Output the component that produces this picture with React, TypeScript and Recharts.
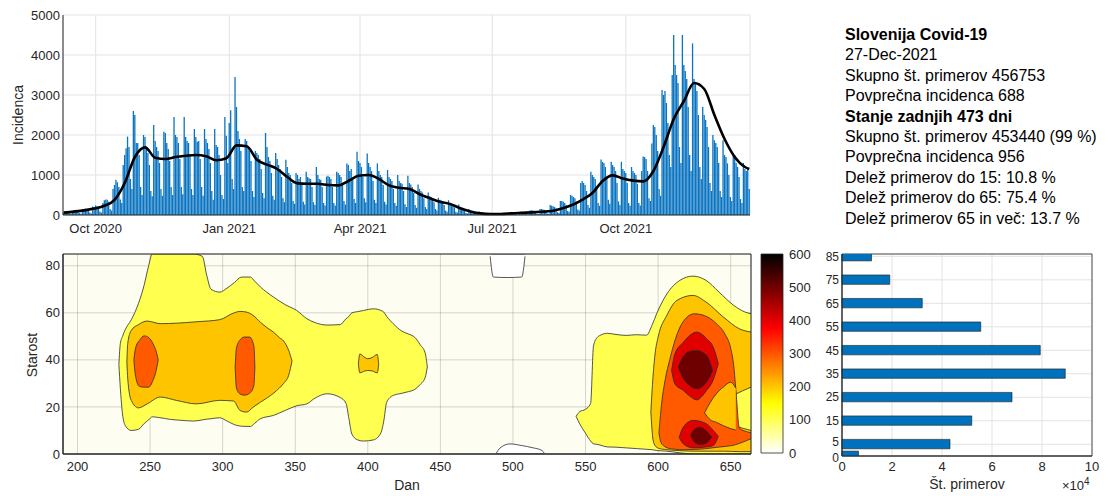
import React from 'react';
import { ComposedChart, BarChart, Bar, Line, Area, XAxis, YAxis, CartesianGrid, ReferenceArea } from 'recharts';

const FONT = '"Liberation Sans", Arial, Helvetica, sans-serif';
const INK = '#262626';
const GRID = '#e3e3e3';

// ---------- top panel: daily cases ----------
const dateTicks = [22, 114, 204, 295, 387];
const dateLabels = ['Oct 2020', 'Jan 2021', 'Apr 2021', 'Jul 2021', 'Oct 2021'];
const casesTicks = [0, 1000, 2000, 3000, 4000, 5000];

// one row per week, Wed..Tue
const dailyCases = [
  60, 90, 85, 70, 40, 25, 100,
  110, 120, 100, 80, 45, 30, 150,
  140, 160, 150, 120, 60, 40, 210,
  200, 240, 220, 180, 90, 60, 300,
  370, 390, 380, 330, 150, 110, 650,
  750, 880, 820, 700, 390, 300, 1250,
  1500, 1670, 1960, 1700, 900, 650, 2600,
  2500, 1800, 1800, 1500, 700, 500, 2000,
  1950, 1700, 1550, 1250, 600, 470, 2250,
  1850, 1700, 1600, 1300, 650, 480, 2080,
  2050, 1800, 1650, 1350, 700, 500, 2450,
  2000, 1950, 1800, 1400, 700, 520, 2450,
  1950, 1850, 1800, 1500, 650, 500, 2150,
  1950, 1830, 1850, 1400, 700, 480, 2150,
  1900, 1800, 1650, 1300, 600, 380, 2150,
  1750, 1700, 1500, 1000, 500, 400, 2450,
  1980, 1300, 2300, 2620, 900, 650, 3450,
  2700, 2100, 1900, 1600, 700, 600, 1900,
  1850, 1700, 1600, 1350, 600, 450, 1600,
  1550, 1500, 1400, 1150, 550, 420, 2050,
  1700, 1450, 1350, 1050, 480, 380, 1550,
  1400, 1250, 1150, 950, 420, 320, 1380,
  1200, 1050, 1000, 800, 350, 280, 1050,
  1000, 900, 950, 750, 330, 260, 1080,
  950, 920, 900, 700, 320, 250, 1200,
  1000, 900, 880, 700, 300, 240, 960,
  980, 950, 900, 700, 300, 240, 1080,
  1050, 1000, 950, 800, 350, 260, 1290,
  1250, 1100, 1150, 900, 400, 300, 1580,
  1350, 1300, 1200, 950, 420, 320, 1540,
  1300, 1200, 1100, 850, 380, 300, 1290,
  1100, 1000, 950, 750, 330, 260, 1125,
  950, 900, 850, 650, 300, 230, 1000,
  850, 800, 780, 600, 270, 200, 980,
  800, 760, 700, 550, 250, 180, 760,
  650, 600, 560, 420, 200, 150, 560,
  470, 450, 420, 320, 150, 110, 430,
  380, 360, 330, 250, 110, 80, 370,
  300, 280, 250, 190, 80, 60, 260,
  200, 180, 160, 120, 50, 40, 150,
  110, 100, 90, 70, 30, 20, 90,
  60, 55, 50, 40, 15, 10, 50,
  45, 40, 35, 30, 10, 8, 45,
  40, 38, 35, 25, 10, 8, 50,
  60, 55, 50, 40, 15, 10, 70,
  80, 75, 70, 55, 20, 15, 110,
  120, 110, 100, 80, 30, 25, 150,
  150, 140, 130, 100, 40, 30, 250,
  230, 220, 200, 170, 70, 50, 350,
  350, 330, 300, 250, 100, 80, 500,
  480, 450, 420, 340, 140, 110, 800,
  850, 800, 750, 600, 250, 180, 1080,
  1000, 950, 900, 700, 300, 230, 1390,
  1330, 1300, 1200, 900, 380, 280, 1330,
  1250, 1200, 1100, 800, 340, 250, 1330,
  1150, 1100, 1050, 800, 300, 230, 1200,
  1100, 1050, 1000, 780, 300, 240, 1100,
  1460, 1450, 1400, 1100, 420, 350, 1790,
  2250, 2200, 2000, 1600, 650, 480, 3125,
  3000, 3100, 2800, 2300, 1500, 1200, 3500,
  4500, 3750, 3500, 3300, 1700, 1300, 4500,
  3750, 3600, 3400, 2700, 1500, 1100, 4290,
  3400, 3330, 3100, 2500, 1200, 900, 2700,
  2500, 2375, 2200, 1700, 800, 600, 2000,
  1870, 1800, 1700, 1300, 600, 450, 1870,
  1500, 1450, 1290, 1000, 450, 350, 1540,
  1500, 1300, 1200, 950, 400, 300, 1300,
  1150, 1100, 1150, 650,
];

// moving average, read weekly
const avgPoints: [number, number][] = [
  [0, 60], [7, 85], [14, 115], [21, 160], [28, 230], [35, 380], [42, 800], [49, 1450],
  [56, 1690], [63, 1430], [70, 1400], [77, 1450], [84, 1480], [91, 1500], [98, 1470],
  [105, 1370], [112, 1420], [119, 1740], [126, 1720], [133, 1380], [140, 1260], [147, 1150],
  [154, 950], [161, 790], [168, 780], [175, 780], [182, 750], [189, 740], [196, 850],
  [203, 980], [210, 1000], [217, 900], [224, 740], [231, 680], [238, 650], [245, 520],
  [252, 420], [259, 330], [266, 275], [273, 170], [280, 90], [287, 40], [294, 25],
  [301, 25], [308, 40], [315, 55], [322, 65], [329, 80], [336, 100], [343, 160],
  [350, 250], [357, 380], [364, 550], [371, 850], [378, 990], [385, 910], [392, 860],
  [399, 840], [406, 1100], [413, 1700], [420, 2400], [427, 2850], [434, 3300], [441, 3150],
  [448, 2500], [455, 1900], [462, 1450], [469, 1200], [472, 1150],
];

const dailyData = dailyCases.map((v, i) => ({ i, cases: v, avg: null as number | null }));
avgPoints.forEach(([i, v]) => { dailyData[i].avg = v; });

// ---------- contour panel: age x day ----------
const dayTicks = [200, 250, 300, 350, 400, 450, 500, 550, 600, 650];
const ageTicks = [0, 20, 40, 60, 80];
const levelColors = ['#fdfdf2', '#ffff50', '#ffc400', '#ff5a00', '#e00000', '#6e0000'];

// contour regions as [day, ageLow, ageHigh]
const c100a = [
  [228.5, 38, 38], [229.5, 28, 47], [231, 17, 50], [233, 12, 53], [237, 10, 57], [242, 10.5, 64],
  [246, 13, 72], [249, 14.5, 80], [251.5, 15.8, 85], [256, 15.5, 85], [264, 14.7, 85], [272, 14.3, 85],
  [280, 14, 85], [286, 14.5, 84], [289, 14.8, 76], [292, 15, 70], [298, 15.4, 68.8], [303, 14, 70.5],
  [308, 12.5, 72.8], [313, 11.8, 75.2], [319, 11.7, 75.2], [322, 13, 73.5], [326, 15, 71], [335, 16.4, 66.7],
  [343, 18.5, 63.5], [351, 20.5, 61], [358, 21.3, 57.5], [363, 23.5, 56], [372, 25.6, 54.8], [381, 24, 55],
  [385, 21.5, 57.5], [387, 15, 58.5], [389, 8.5, 60], [393, 6, 60.5], [397, 5.5, 61], [404, 6, 61.7],
  [409, 9, 61], [411, 14, 60.3], [413, 22, 58.5], [417.5, 24.9, 55.4], [423.5, 25.8, 52.2], [428, 26.5, 51],
  [432.5, 27.5, 49.5], [436, 29.5, 46.5], [439.5, 32.5, 43], [441, 37, 37],
];
const c100b = [
  [543.5, 16, 16], [546, 12.8, 18], [550, 8.8, 19], [553.5, 5.5, 21.5], [555.5, 4.3, 46], [558, 4.1, 49.5],
  [560, 3.8, 50.4], [565, 3, 51.3], [571, 2.9, 50.8], [578, 2.6, 50.4], [585, 2.3, 50.7], [592, 2, 50.5],
  [596, 1.8, 55], [599, 1.5, 59.6], [606, 1.2, 68], [615, 0.5, 73.8], [624, 0, 75.6], [633, 0, 73.8],
  [642, 0, 68.8], [652, 0, 63.2], [660, 0, 60.3], [664, 0, 59.6],
];
const c200a = [
  [234, 39, 39], [234.6, 32, 47], [237, 22.8, 52.5], [242, 19.6, 55], [248, 21.3, 56.5], [257, 24.2, 55.4],
  [268, 22.8, 55.6], [282, 21.3, 56.2], [298, 22.8, 57.1], [307.5, 22.5, 59.9], [312, 18.5, 60.6],
  [316.5, 17.8, 60.3], [321, 19.9, 58.9], [326, 22, 56], [331, 24, 53.5], [335, 25.8, 51.8], [339, 28, 49.5],
  [342, 30, 48], [345.5, 33.5, 44], [347.8, 39.5, 39.5],
];
const c200b = [
  [393.5, 38.3, 38.3], [394.5, 34.5, 42.5], [398, 35.3, 41], [400, 35.5, 40.5], [403, 35.3, 41],
  [406.5, 34.5, 42.3], [407.5, 38, 38],
];
const c200c = [
  [595, 18, 18], [596.5, 6, 33], [598, 3.5, 43], [600, 2.5, 49.7], [606, 1.8, 58.9], [613, 1.5, 65.3],
  [624, 1.2, 67.4], [633, 1.2, 64.6], [645, 1.2, 58.2], [656, 1, 53.2], [664, 1, 51.8],
];
const gap100 = [
  [640, 19.8, 19.8], [643, 15.5, 22.5], [648, 13.5, 24], [652, 12.3, 25], [658, 11, 26.8], [664, 10, 28.4],
];
const c300a = [
  [238.8, 40, 40], [240, 33, 45], [242.7, 28.7, 48.3], [246, 28.4, 50.2], [249, 28.4, 49.5], [252, 31.3, 46.9],
  [254, 35, 44], [255.6, 40, 40],
];
const c300b = [
  [308.6, 37, 37], [309.5, 28, 45], [312, 25.5, 48.5], [315, 25, 49.7], [318.5, 25.8, 49.7], [321.5, 29, 46],
  [322.2, 37, 37],
];
const c300c = [
  [600.6, 9, 9], [602, 4.8, 19], [605, 3, 32], [608, 2.3, 40], [612, 2, 49], [617, 1.8, 56], [625, 1.9, 59.6],
  [632, 2.2, 58.8], [640, 2.8, 55.5], [646, 3.2, 51], [650, 3.5, 45], [652, 3.7, 38], [653.5, 4, 28],
  [656, 4.5, 11], [661, 5.7, 9.5], [664, 6.5, 9],
];
const gap200 = [
  [632, 17.5, 17.5], [636, 14.5, 22], [640, 13.5, 25.5], [645, 12, 28.5], [650, 10.8, 30.5], [653.5, 10.2, 28],
];
const c400a = [
  [609.3, 35.5, 35.5], [611.6, 29.8, 42.6], [617.4, 27, 47.5], [622, 24.5, 50.5], [626.5, 23, 51.8],
  [633.4, 27, 49], [638, 31.5, 45.4], [641.5, 38.4, 38.4],
];
const c400b = [
  [614.5, 7, 7], [617.4, 4.3, 11.5], [624.2, 2.6, 14.3], [633.4, 3, 12.8], [638, 3.6, 10], [641.5, 7.5, 7.5],
];
const c500a = [
  [613.9, 37, 37], [617.4, 32, 41.5], [621, 29.5, 43.5], [626.5, 27.7, 44], [633.4, 30.5, 42], [637.6, 35.5, 35.5],
];
const c500b = [
  [622.4, 8, 8], [625, 5, 10.5], [628.8, 4, 11.4], [633, 4.5, 10], [636.9, 7.2, 7.2],
];
const low0a = [[484.3, 84, 85], [486.5, 75.2, 85], [496, 75, 85], [506, 75.2, 85], [508.3, 84, 85]];
const low0b = [[488.5, 0, 0.3], [491, 0, 2.5], [498, 0, 4.3], [506, 0, 3.6], [514, 0, 2.6], [520, 0, 1.5], [521.5, 0, 0.4]];

const contourLayers = [
  { key: 'c100a', pts: c100a, fill: levelColors[1] },
  { key: 'c100b', pts: c100b, fill: levelColors[1] },
  { key: 'c200a', pts: c200a, fill: levelColors[2] },
  { key: 'c200b', pts: c200b, fill: levelColors[2] },
  { key: 'c200c', pts: c200c, fill: levelColors[2] },
  { key: 'gap100', pts: gap100, fill: levelColors[1] },
  { key: 'c300a', pts: c300a, fill: levelColors[3] },
  { key: 'c300b', pts: c300b, fill: levelColors[3] },
  { key: 'c300c', pts: c300c, fill: levelColors[3] },
  { key: 'gap200', pts: gap200, fill: levelColors[2] },
  { key: 'c400a', pts: c400a, fill: levelColors[4] },
  { key: 'c400b', pts: c400b, fill: levelColors[4] },
  { key: 'c500a', pts: c500a, fill: levelColors[5] },
  { key: 'c500b', pts: c500b, fill: levelColors[5] },
  { key: 'low0a', pts: low0a, fill: '#ffffff' },
  { key: 'low0b', pts: low0b, fill: '#ffffff' },
];

const contourRows = contourLayers
  .flatMap((l) => l.pts.map(([day, lo, hi]) => ({ day, [l.key]: [lo, hi] } as any)))
  .sort((a, b) => a.day - b.day);

// ---------- colorbar ----------
const cbTicks = [0, 100, 200, 300, 400, 500, 600];
const cbData = [{ name: 'scale', top: 600 }];

// ---------- right panel: cases by age ----------
const ageGroups = [0, 5, 15, 25, 35, 45, 55, 65, 75, 85];
const ageCases = [6600, 43200, 51900, 68000, 89300, 79300, 55500, 32100, 19100, 11800];
const ageData = ageGroups.map((a, k) => ({ age: a, cases: ageCases[k] }));
const ageXTicks = [0, 20000, 40000, 60000, 80000, 100000];

const infoLines = [
  { t: 'Slovenija Covid-19', b: true },
  { t: '27-Dec-2021' },
  { t: 'Skupno št. primerov 456753' },
  { t: 'Povprečna incidenca 688' },
  { t: 'Stanje zadnjih 473 dni', b: true },
  { t: 'Skupno št. primerov 453440 (99 %)' },
  { t: 'Povprečna incidenca 956' },
  { t: 'Delež primerov do 15: 10.8 %' },
  { t: 'Delež primerov do 65: 75.4 %' },
  { t: 'Delež primerov 65 in več: 13.7 %' },
];

const tick = { fill: INK, fontSize: 13, fontFamily: FONT };

// "0" and "5" sit close together at the bottom of the age axis
const AgeTick = (props: any) => {
  const { x, y, payload } = props;
  const shift = payload.value === 0 ? 2 : payload.value === 5 ? -2 : 0;
  return (
    <text x={x} y={y + shift} dy="0.35em" textAnchor="end" fill={INK} fontSize={12} fontFamily={FONT}>
      {payload.value}
    </text>
  );
};

const title = (text: string, x: number, y: number, rotate = false): React.ReactNode => (
  <div
    style={{
      position: 'absolute', left: x, top: y, transform: `translate(-50%, -50%)${rotate ? ' rotate(-90deg)' : ''}`,
      fontFamily: FONT, fontSize: 14, color: INK, whiteSpace: 'nowrap',
    }}
  >
    {text}
  </div>
);

export default function App() {
  return (
    <div style={{ position: 'absolute', left: 0, top: 0, width: 1109, height: 496, background: '#fff', overflow: 'hidden' }}>
      {/* top: incidence */}
      <div style={{ position: 'absolute', left: 0, top: 0 }}>
        <ComposedChart width={760} height={240} data={dailyData} margin={{ top: 15, right: 10, left: 0, bottom: 0 }}>
          <CartesianGrid stroke={GRID} />
          <XAxis
            dataKey="i" type="number" domain={[-0.5, 472.5]} ticks={dateTicks} allowDataOverflow
            tickFormatter={(v) => dateLabels[dateTicks.indexOf(v)]}
            tick={tick} tickLine={false} tickSize={0} tickMargin={9} height={25} stroke={INK}
          />
          <YAxis
            type="number" domain={[0, 5000]} ticks={casesTicks} width={63}
            tick={tick} tickLine={false} tickSize={0} tickMargin={3} stroke={INK}
          />
          <Bar dataKey="cases" fill="#0a74c0" barSize={1.3} isAnimationActive={false} />
          <Line dataKey="avg" type="monotone" connectNulls stroke="#000" strokeWidth={2.6} dot={false} activeDot={false} isAnimationActive={false} />
        </ComposedChart>
      </div>
      {title('Incidenca', 18, 115, true)}

      {/* info text */}
      <div style={{ position: 'absolute', left: 845, top: 25, fontFamily: FONT, fontSize: 16, lineHeight: '20.4px', color: '#000' }}>
        {infoLines.map((l, k) => (
          <div key={k} style={{ fontWeight: l.b ? 'bold' : 'normal', whiteSpace: 'nowrap' }}>{l.t}</div>
        ))}
      </div>

      {/* contour */}
      <div style={{ position: 'absolute', left: 0, top: 245 }}>
        <ComposedChart width={760} height={235} data={contourRows} margin={{ top: 9, right: 9, left: 0, bottom: 0 }}>
          <CartesianGrid fill={levelColors[0]} fillOpacity={1} stroke="none" />
          <XAxis
            dataKey="day" type="number" domain={[190, 664]} ticks={dayTicks} allowDataOverflow
            tick={tick} tickLine={false} tickSize={0} tickMargin={8} height={26} stroke={INK}
          />
          <YAxis
            type="number" domain={[0, 85]} ticks={ageTicks} width={63} allowDataOverflow
            tick={tick} tickLine={false} tickSize={0} tickMargin={3} stroke={INK}
          />
          {contourLayers.map((l) => (
            <Area
              key={l.key} dataKey={l.key} type="monotone" connectNulls fill={l.fill} fillOpacity={1}
              stroke="#2b2b2b" strokeWidth={0.8} dot={false} activeDot={false} isAnimationActive={false}
            />
          ))}
          <CartesianGrid stroke="#000" strokeOpacity={0.16} />
          <ReferenceArea x1={190} x2={664} y1={0} y2={85} fill="none" stroke={INK} strokeWidth={1} />
        </ComposedChart>
      </div>
      {title('Starost', 32, 355, true)}
      {title('Dan', 407, 485)}

      {/* colorbar */}
      <div style={{ position: 'absolute', left: 755, top: 245 }}>
        <BarChart width={70} height={215} data={cbData} barCategoryGap={0} margin={{ top: 9, right: 0, left: 6, bottom: 7 }}>
          <defs>
            <linearGradient id="hotReversed" x1="0" y1="0" x2="0" y2="1">
              <stop offset="0%" stopColor="#000000" />
              <stop offset="37.5%" stopColor="#ff0000" />
              <stop offset="75%" stopColor="#ffff00" />
              <stop offset="100%" stopColor="#ffffff" />
            </linearGradient>
          </defs>
          <XAxis dataKey="name" hide />
          <YAxis
            orientation="right" type="number" domain={[0, 600]} ticks={cbTicks} width={42} interval={0}
            tick={tick} tickLine={false} tickSize={0} tickMargin={6} axisLine={false}
          />
          <Bar dataKey="top" fill="url(#hotReversed)" stroke={INK} strokeWidth={0.8} isAnimationActive={false} />
        </BarChart>
      </div>

      {/* cases by age */}
      <div style={{ position: 'absolute', left: 800, top: 245 }}>
        <ComposedChart layout="vertical" width={300} height={236} data={ageData} margin={{ top: 9, right: 8, left: 0, bottom: 0 }}>
          <CartesianGrid stroke={GRID} />
          <XAxis
            type="number" domain={[0, 100000]} ticks={ageXTicks} tickFormatter={(v) => String(v / 10000)}
            tick={tick} tickLine={false} tickSize={0} tickMargin={6} height={25} stroke={INK}
          />
          <YAxis
            type="number" dataKey="age" domain={[0, 86]} ticks={ageGroups} width={42} allowDataOverflow reversed interval={0}
            tick={<AgeTick />} tickLine={false} tickSize={0} tickMargin={3} stroke={INK}
          />
          <Bar dataKey="cases" fill="#0072bd" stroke="#1a1a1a" strokeWidth={0.6} barSize={9.4} isAnimationActive={false} />
          <ReferenceArea x1={0} x2={100000} y1={0} y2={86} fill="none" stroke={INK} strokeWidth={0.8} />
        </ComposedChart>
      </div>
      {title('Št. primerov', 967, 484)}
      <div style={{ position: 'absolute', left: 1062, top: 476, fontFamily: FONT, fontSize: 13, color: INK, whiteSpace: 'nowrap' }}>
        ×10<sup style={{ fontSize: 10 }}>4</sup>
      </div>
    </div>
  );
}
